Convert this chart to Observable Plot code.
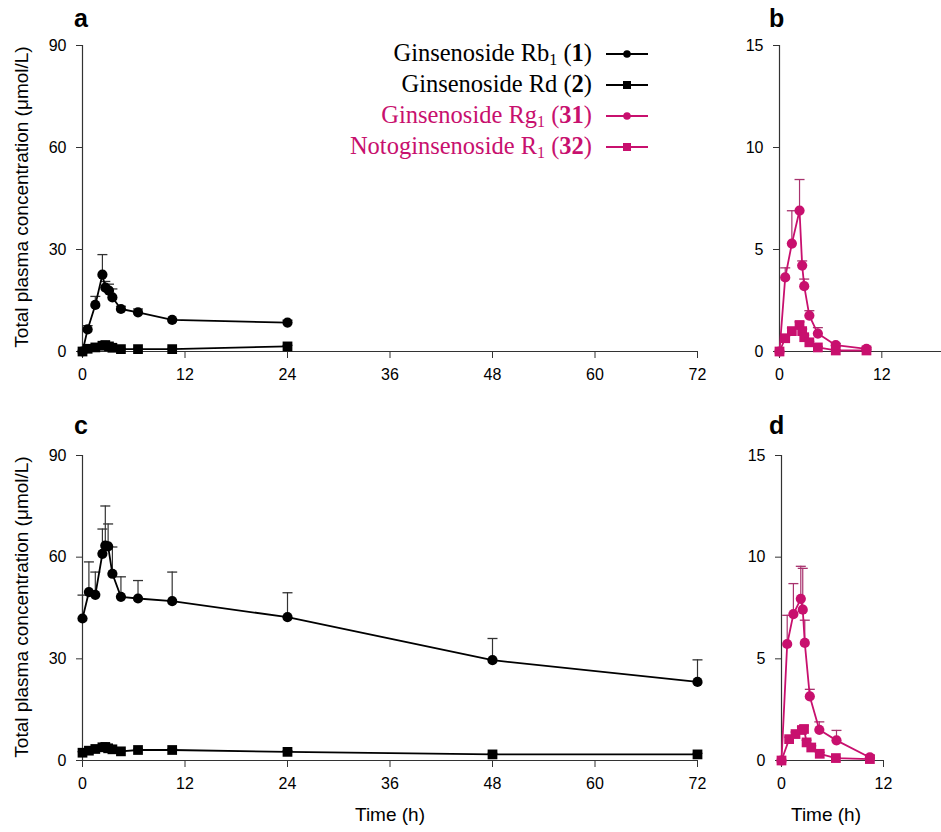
<!DOCTYPE html>
<html><head><meta charset="utf-8">
<script src="https://cdn.jsdelivr.net/npm/d3@7"></script>
<script src="https://cdn.jsdelivr.net/npm/@observablehq/plot@0.6"></script>
<style>
body{margin:0;background:#fff;}
#wrap{position:relative;width:941px;height:832px;overflow:hidden;font-family:"Liberation Sans",Arial,sans-serif;color:#000;}
.abs{position:absolute;}
.letter{font-weight:bold;font-size:25px;line-height:25px;}
.ytitle{font-size:19px;line-height:22px;height:22px;width:420px;text-align:center;transform:rotate(-90deg);white-space:nowrap;}
.xtitle{font-size:19px;line-height:22px;width:200px;text-align:center;white-space:nowrap;}
.leg{font-family:"Liberation Serif","Times New Roman",serif;font-size:24.5px;line-height:28px;height:28px;width:592px;text-align:right;white-space:nowrap;}
.leg sub{font-size:16px;vertical-align:-4px;line-height:0;}
</style></head>
<body><div id="wrap"></div>
<script>
const PINK = "#C8106E";
const PINK_ERR = "#A8336E";
const BLACK = "#000";
const BLACK_ERR = "#333";

// ---------- Panel a (0–24 h) ----------
const timesA = [0, 0.6, 1.5, 2.33, 2.67, 3.1, 3.5, 4.5, 6.5, 10.5, 24];
const rb1A = [0, 6.5, 13.7, 22.6, 18.8, 17.9, 15.9, 12.5, 11.5, 9.3, 8.5];
const rb1AUp = [0, 7.6, 16.2, 28.5, 20.6, 19.8, 18.4, 13.3, 12.5, 9.6, 9.2];
const rdA = [0, 0.8, 1.2, 1.7, 1.9, 1.5, 1.1, 0.7, 0.7, 0.7, 1.5];
const rdAUp = [0, 1.0, 1.5, 2.2, 2.3, 1.9, 1.4, 0.9, 0.9, 0.9, 1.8];

// ---------- Panel b ----------
const timesB = [0, 0.67, 1.45, 2.35, 2.66, 2.9, 3.5, 4.5, 6.6, 10.2];
const rg1B = [0, 3.63, 5.29, 6.91, 4.21, 3.2, 1.76, 0.88, 0.31, 0.13];
const rg1BUp = [0, 4.1, 6.9, 8.43, 4.44, 3.55, 2.0, 1.17, 0.4, 0.2];
const r1B = [0, 0.65, 1.0, 1.3, 1.0, 0.7, 0.45, 0.2, 0.05, 0.05];
const r1BUp = [0, 0.75, 1.15, 1.45, 1.1, 0.8, 0.5, 0.25, 0.08, 0.08];

// ---------- Panel c (0–72 h) ----------
const timesC = [0, 0.75, 1.5, 2.33, 2.67, 3, 3.5, 4.5, 6.5, 10.5, 24, 48, 72];
const rb1C = [41.9, 49.7, 48.9, 61, 63.4, 63.2, 55.1, 48.3, 47.8, 47.0, 42.3, 29.6, 23.2];
const rb1CUp = [48.8, 58.6, 55.6, 68.3, 75.1, 69.8, 63, 54.2, 53.1, 55.6, 49.5, 36, 29.7];
const rdC = [2.3, 2.9, 3.4, 3.9, 4.0, 3.6, 3.3, 2.7, 3.1, 3.1, 2.55, 1.8, 1.8];
const rdCUp = [2.6, 3.2, 3.8, 4.3, 4.4, 4.0, 3.6, 3.0, 3.4, 3.4, 2.9, 2.1, 2.1];

// ---------- Panel d ----------
const timesD = [0, 0.67, 1.4, 2.27, 2.5, 2.74, 3.33, 4.45, 6.47, 10.4];
const rg1D = [0, 5.73, 7.2, 7.95, 7.42, 5.78, 3.15, 1.51, 0.99, 0.15];
const rg1DUp = [0, 7.14, 8.7, 9.55, 9.45, 6.9, 3.5, 1.9, 1.48, 0.25];
const timesD2 = [0, 0.9, 1.65, 2.4, 2.65, 2.95, 3.5, 4.5, 6.4, 10.4];
const r1D = [0, 1.05, 1.3, 1.5, 1.55, 0.89, 0.64, 0.33, 0.12, 0.07];
const r1DUp = [0, 1.15, 1.4, 1.65, 1.7, 1.0, 0.72, 0.4, 0.16, 0.1];

// ---------- Axes ----------
const xTicksLong = [0, 12, 24, 36, 48, 60, 72];
const xTicksShort = [0, 12];
const yTicksBig = [0, 30, 60, 90];
const yTicksSmall = [0, 5, 10, 15];

// ---------- Legend ----------
const legBase = ["Ginsenoside Rb", "Ginsenoside Rd", "Ginsenoside Rg", "Notoginsenoside R"];
const legSub = ["1", "", "1", "1"];
const legNum = ["1", "2", "31", "32"];
const legColor = [BLACK, BLACK, PINK, PINK];
const legSymbol = ["circle", "square", "circle", "square"];

const capSymbol = {draw(ctx) { ctx.moveTo(-5, 0); ctx.lineTo(5, 0); }};

function seriesMarks(times, vals, ups, color, errColor, symbol) {
  const rows = times.map((t, i) => ({t, v: vals[i], u: ups[i]}));
  const err = rows.filter(d => d.u > d.v);
  const r = symbol === "square" ? 5.5 : 5.1;
  return [
    Plot.ruleX(err, {x: "t", y1: "v", y2: "u", stroke: errColor, strokeWidth: 1.2}),
    Plot.dot(err, {x: "t", y: "u", symbol: capSymbol, stroke: errColor, fill: "none", strokeWidth: 1.3}),
    Plot.line(rows, {x: "t", y: "v", stroke: color, strokeWidth: 1.8}),
    Plot.dot(rows, {x: "t", y: "v", symbol, fill: color, stroke: "none", r})
  ];
}

function panel(o) {
  return Plot.plot({
    width: o.width, height: o.height,
    marginLeft: o.ml, marginRight: o.mr, marginTop: o.mt, marginBottom: o.mb,
    style: {fontFamily: '"Liberation Sans", Arial, sans-serif', color: "#000", background: "transparent", overflow: "visible"},
    x: {domain: o.xDomain},
    y: {domain: o.yDomain},
    marks: [
      Plot.axisX({ticks: o.xTicks, tickSize: 7, tickPadding: 10, fontSize: 16, label: null, tickFormat: d => String(d), stroke: "#333"}),
      Plot.axisY({ticks: o.yTicks, tickSize: 6, tickPadding: 10, fontSize: 16, label: null, tickFormat: d => String(d), stroke: "#333"}),
      Plot.ruleY([0], {stroke: "#333", strokeWidth: 1.2}),
      Plot.ruleX([0], {stroke: "#333", strokeWidth: 1.2}),
      ...o.series.flatMap(s => seriesMarks(...s))
    ]
  });
}

const wrap = document.getElementById("wrap");
function place(el, left, top) {
  const d = document.createElement("div");
  d.className = "abs";
  d.style.left = left + "px"; d.style.top = top + "px";
  d.appendChild(el);
  wrap.appendChild(d);
  return d;
}
function addHTML(cls, html, left, top, color) {
  const d = document.createElement("div");
  d.className = "abs " + cls;
  d.style.left = left + "px"; d.style.top = top + "px";
  if (color) d.style.color = color;
  d.innerHTML = html;
  wrap.appendChild(d);
  return d;
}

place(panel({width: 720, height: 400, ml: 82, mr: 23, mt: 45, mb: 49,
  xDomain: [0, 72], yDomain: [0, 90], xTicks: xTicksLong, yTicks: yTicksBig,
  series: [
    [timesA, rdA, rdAUp, BLACK, BLACK_ERR, "square"],
    [timesA, rb1A, rb1AUp, BLACK, BLACK_ERR, "circle"]
  ]}), 0, 0);

place(panel({width: 221, height: 400, ml: 59, mr: 0, mt: 45, mb: 49,
  xDomain: [0, 19], yDomain: [0, 15], xTicks: xTicksShort, yTicks: yTicksSmall,
  series: [
    [timesB, r1B, r1BUp, PINK, PINK_ERR, "square"],
    [timesB, rg1B, rg1BUp, PINK, PINK_ERR, "circle"]
  ]}), 720, 0);

place(panel({width: 720, height: 420, ml: 82, mr: 23, mt: 50, mb: 65,
  xDomain: [0, 72], yDomain: [0, 90], xTicks: xTicksLong, yTicks: yTicksBig,
  series: [
    [timesC, rdC, rdCUp, BLACK, BLACK_ERR, "square"],
    [timesC, rb1C, rb1CUp, BLACK, BLACK_ERR, "circle"]
  ]}), 0, 405);

place(panel({width: 221, height: 420, ml: 61, mr: 58, mt: 50, mb: 65,
  xDomain: [0, 12], yDomain: [0, 15], xTicks: xTicksShort, yTicks: yTicksSmall,
  series: [
    [timesD2, r1D, r1DUp, PINK, PINK_ERR, "square"],
    [timesD, rg1D, rg1DUp, PINK, PINK_ERR, "circle"]
  ]}), 720, 405);

// panel letters
addHTML("letter", "a", 74, 6);
addHTML("letter", "b", 769, 6);
addHTML("letter", "c", 74, 413);
addHTML("letter", "d", 769, 413);

// y titles
const yTitle = "Total plasma concentration (μmol/L)";
addHTML("ytitle", yTitle, 22 - 210, 197 - 11);
addHTML("ytitle", yTitle, 22 - 210, 607 - 11);

// x titles
addHTML("xtitle", "Time (h)", 390 - 100, 804);
addHTML("xtitle", "Time (h)", 826 - 100, 804);

// legend
const legY = [54, 85, 116, 147];
legBase.forEach((b, i) => {
  const sub = legSub[i] ? `<sub>${legSub[i]}</sub>` : "";
  addHTML("leg", `${b}${sub} (<b>${legNum[i]}</b>)`, 0, legY[i] - 15, legColor[i]);
  const ns = "http://www.w3.org/2000/svg";
  const svg = document.createElementNS(ns, "svg");
  svg.setAttribute("width", 44); svg.setAttribute("height", 14);
  const ln = document.createElementNS(ns, "line");
  ln.setAttribute("x1", 0); ln.setAttribute("x2", 42); ln.setAttribute("y1", 7); ln.setAttribute("y2", 7);
  ln.setAttribute("stroke", legColor[i]); ln.setAttribute("stroke-width", 2);
  svg.appendChild(ln);
  const p = document.createElementNS(ns, "path");
  p.setAttribute("d", d3.symbol(legSymbol[i] === "circle" ? d3.symbolCircle : d3.symbolSquare, legSymbol[i] === "circle" ? 45 : 64)());
  p.setAttribute("transform", "translate(21,7)");
  p.setAttribute("fill", legColor[i]);
  svg.appendChild(p);
  const d = place(svg, 606, legY[i] - 7);
  d.style.lineHeight = "0";
});
</script></body></html>
